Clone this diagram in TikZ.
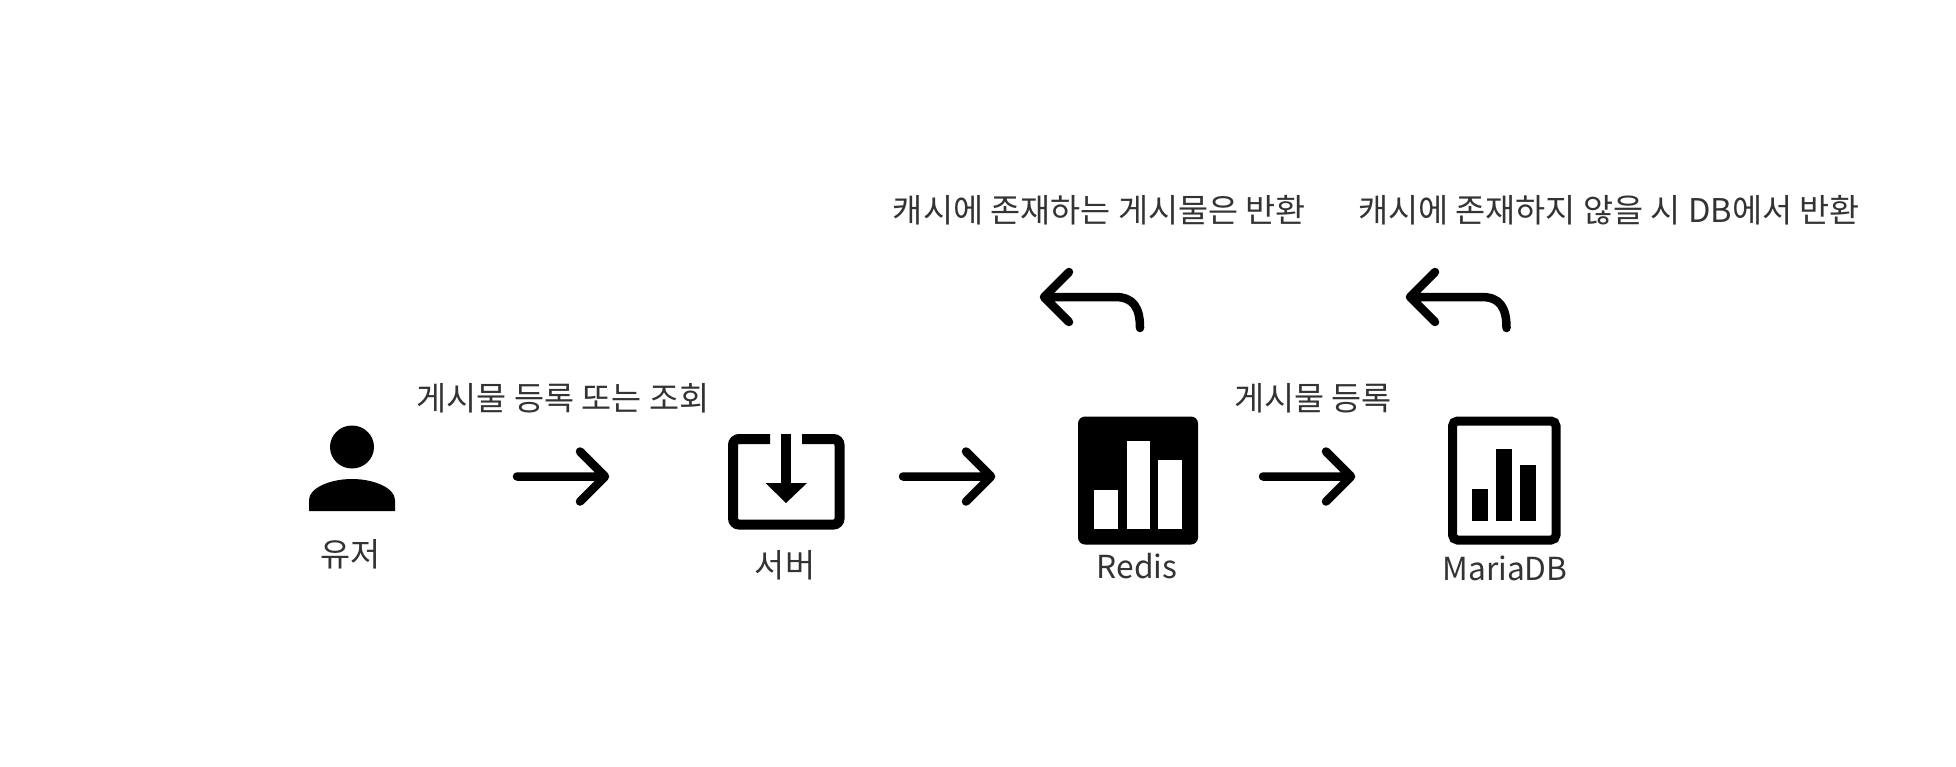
\documentclass[tikz,border=0pt]{standalone}
\usepackage{fontspec}
\setmainfont{Noto Sans CJK KR}
\definecolor{txt}{HTML}{333333}
\tikzset{
  label text/.style={inner sep=0pt,anchor=base,text=txt,font=\fontsize{32.7}{38}\selectfont},
  latin text/.style={inner sep=0pt,anchor=base,text=txt,font=\fontsize{31.7}{38}\selectfont},
  arrowline/.style={draw=black,line width=8.5pt,line cap=round,line join=round},
  box line/.style={draw=black,line width=10pt,rounded corners=6pt},
  solid bar/.style={fill=black,draw=none},
  white bar/.style={fill=white,draw=none}
}
\begin{document}
\begin{tikzpicture}[x=1pt,y=-1pt]
\useasboundingbox[fill=white] (0,0) rectangle (1956,766);
% user
\fill (352,447) ellipse (22 and 21.5);
\fill (309,511) -- (309,500) .. controls (309,488) and (330,479) .. (352,479) .. controls (374,479) and (395,488) .. (395,500) -- (395,511) -- cycle;
\node[label text] (user) at (350.5,566.5) {유저};
% server
\draw[box line] (770,439) -- (733,439) -- (733,524.5) -- (839.5,524.5) -- (839.5,439) -- (802,439);
\fill (781,434) rectangle (791,483);
\fill (765.5,483) -- (807,483) -- (786,503) -- cycle;
\node[label text] (server) at (785,577) {서버};
% redis
\fill[rounded corners=7pt] (1078,416.5) rectangle (1198,544.5);
\fill[white bar] (1094,490) rectangle (1118,529);
\fill[white bar] (1127,441) rectangle (1150,529);
\fill[white bar] (1158,460) rectangle (1182,529);
\node[latin text] (redis) at (1137,578.5) {Redis};
% mariadb
\draw[draw=black,line width=9pt,rounded corners=5pt] (1452.5,421) rectangle (1556,540);
\fill[solid bar] (1472,489) rectangle (1488,521);
\fill[solid bar] (1496,449) rectangle (1512,521);
\fill[solid bar] (1520,465) rectangle (1536,521);
\node[latin text] (maria) at (1505,580.5) {MariaDB};
% forward arrows
\coordinate (a1s) at (517,476.5); \coordinate (a1e) at (605,476.5);
\coordinate (a1u) at (580,451.5); \coordinate (a1d) at (580,501.5);
\draw[arrowline] (a1s) -- (a1e) (a1u) -- (a1e) -- (a1d);
\coordinate (a2s) at (903,476.5); \coordinate (a2e) at (991,476.5);
\coordinate (a2u) at (966,451.5); \coordinate (a2d) at (966,501.5);
\draw[arrowline] (a2s) -- (a2e) (a2u) -- (a2e) -- (a2d);
\coordinate (a3s) at (1263,476.5); \coordinate (a3e) at (1351,476.5);
\coordinate (a3u) at (1326,451.5); \coordinate (a3d) at (1326,501.5);
\draw[arrowline] (a3s) -- (a3e) (a3u) -- (a3e) -- (a3d);
% return arrows
\coordinate (r1s) at (1140,328); \coordinate (r1e) at (1044,297);
\coordinate (r1u) at (1069,272); \coordinate (r1d) at (1069,322);
\draw[arrowline] (r1s) .. controls (1140,307) and (1133,297) .. (1115,297) -- (r1e) (r1u) -- (r1e) -- (r1d);
\coordinate (r2s) at (1506.5,328); \coordinate (r2e) at (1410,297);
\coordinate (r2u) at (1435,272); \coordinate (r2d) at (1435,322);
\draw[arrowline] (r2s) .. controls (1506.5,307) and (1499.5,297) .. (1481.5,297) -- (r2e) (r2u) -- (r2e) -- (r2d);
% labels
\node[label text] (t1) at (563,410.5) {게시물 등록 또는 조회};
\node[label text] (t2) at (1313,410.5) {게시물 등록};
\node[label text] (t3) at (1099.5,222) {캐시에 존재하는 게시물은 반환};
\node[label text] (t4) at (1609,222) {캐시에 존재하지 않을 시 DB에서 반환};
\end{tikzpicture}
\end{document}
